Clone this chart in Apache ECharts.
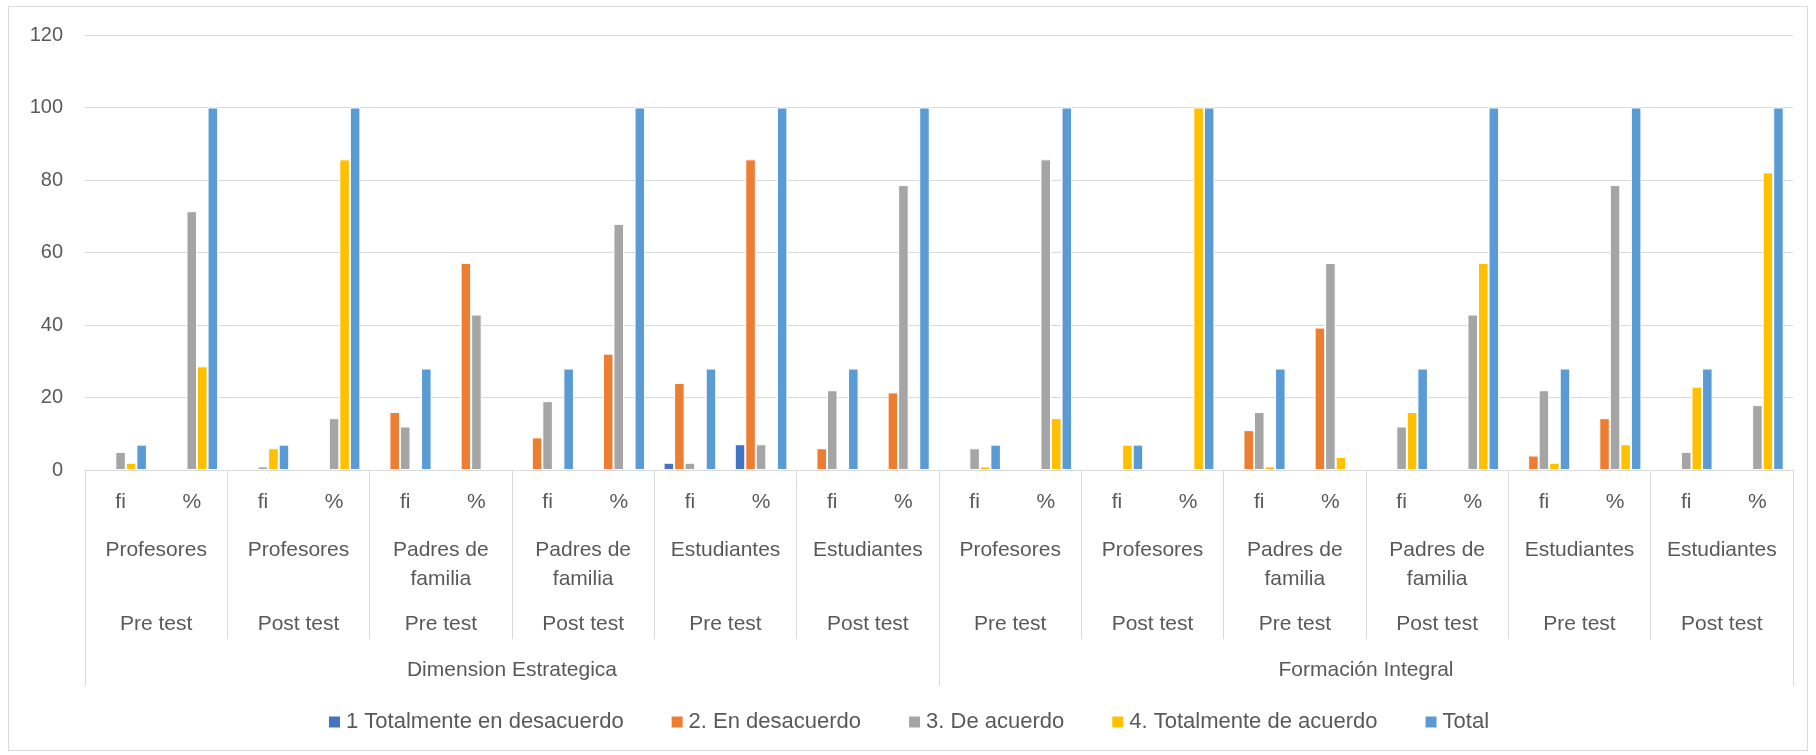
<!DOCTYPE html>
<html>
<head>
<meta charset="utf-8">
<script src="https://cdn.jsdelivr.net/npm/echarts@6/dist/echarts.min.js"></script>
<style>
html,body{margin:0;padding:0;background:#fff;}
#frame{position:absolute;left:8px;top:6px;width:1798px;height:743px;border:1px solid #D9D9D9;}
#chart{position:absolute;left:0;top:0;width:1816px;height:755px;}
</style>
</head>
<body>
<div id="frame"></div>
<div id="chart"></div>
<script>
// ---- data ----
const measureLabels = ['fi','%','fi','%','fi','%','fi','%','fi','%','fi','%','fi','%','fi','%','fi','%','fi','%','fi','%','fi','%'];
const groupLabels = ['Profesores','Profesores','Padres de\nfamilia','Padres de\nfamilia','Estudiantes','Estudiantes',
                     'Profesores','Profesores','Padres de\nfamilia','Padres de\nfamilia','Estudiantes','Estudiantes'];
const testLabels = ['Pre test','Post test','Pre test','Post test','Pre test','Post test',
                    'Pre test','Post test','Pre test','Post test','Pre test','Post test'];
const dimensionLabels = ['Dimension Estrategica','Formación Integral'];
const seriesNames = ['1 Totalmente en desacuerdo','2. En desacuerdo','3. De acuerdo','4. Totalmente de acuerdo','Total'];

const totalDesacuerdo = [null,null, null,null, null,null, null,null, 2,7.1, null,null,
                         null,null, null,null, null,null, null,null, null,null, null,null];
const enDesacuerdo    = [null,null, null,null, 16,57.1, 9,32.1, 24,85.7, 6,21.4,
                         null,null, null,null, 11,39.3, null,null, 4,14.3, null,null];
const deAcuerdo       = [5,71.4, 1,14.3, 12,42.9, 19,67.9, 2,7.1, 22,78.6,
                         6,85.7, null,null, 16,57.1, 12,42.9, 22,78.6, 5,17.9];
const totalAcuerdo    = [2,28.6, 6,85.7, null,null, null,null, null,null, null,null,
                         1,14.3, 7,100, 1,3.6, 16,57.1, 2,7.1, 23,82.1];
const totalValues     = [7,100, 7,100, 28,null, 28,100, 28,100, 28,100,
                         7,100, 7,100, 28,null, 28,100, 28,100, 28,100];
const yTicks = {min:0, max:120, interval:20};

const colors = ['#4472C4','#ED7D31','#A5A5A5','#FFC000','#5B9BD5'];
const seriesData = [totalDesacuerdo, enDesacuerdo, deAcuerdo, totalAcuerdo, totalValues];

const FONT = '"Liberation Sans", Arial, sans-serif';
const TXT = '#595959';
const LINE = '#D9D9D9';
const FS = 21;

const chart = echarts.init(document.getElementById('chart'));
const hiddenLine = {show:false};
chart.setOption({
  animation:false,
  color: colors,
  textStyle:{fontFamily:FONT, color:TXT},
  grid:{left:85, right:23, top:35, bottom:285, containLabel:false},
  legend:{
    bottom: 17, left:'center', itemWidth:13, itemHeight:13, itemGap:46,
    icon:'rect',
    textStyle:{fontFamily:FONT, fontSize:22, color:TXT},
    data: seriesNames
  },
  xAxis:[
    {type:'category', data:measureLabels, position:'bottom',
     axisLine:{show:true, lineStyle:{color:LINE, width:1}},
     axisTick:{show:false},
     axisLabel:{interval:0, margin:18, fontSize:FS, lineHeight:29, color:TXT, fontFamily:FONT}},
    {type:'category', data:groupLabels, position:'bottom',
     axisLine:hiddenLine,
     axisTick:{show:true, interval:0, length:169, lineStyle:{color:LINE, width:1}},
     axisLabel:{interval:0, margin:66, fontSize:FS, lineHeight:29, color:TXT, fontFamily:FONT}},
    {type:'category', data:testLabels, position:'bottom',
     axisLine:hiddenLine, axisTick:{show:false},
     axisLabel:{interval:0, margin:140, fontSize:FS, lineHeight:29, color:TXT, fontFamily:FONT}},
    {type:'category', data:dimensionLabels, position:'bottom',
     axisLine:hiddenLine,
     axisTick:{show:true, interval:0, length:216, lineStyle:{color:LINE, width:1}},
     axisLabel:{interval:0, margin:186, fontSize:FS, lineHeight:29, color:TXT, fontFamily:FONT}}
  ],
  yAxis:{
    type:'value', min:yTicks.min, max:yTicks.max, interval:yTicks.interval,
    axisLine:{show:false}, axisTick:{show:false},
    axisLabel:{margin:22, fontSize:20, color:TXT, fontFamily:FONT},
    splitLine:{lineStyle:{color:LINE, width:1}}
  },
  series: seriesNames.map((n,i)=>({
    name:n, type:'bar', xAxisIndex:0, data:seriesData[i],
    barGap:'0%', barCategoryGap:'26%',
    itemStyle:{color:colors[i], borderColor:'#fff', borderWidth:1}
  }))
});
</script>
</body>
</html>
